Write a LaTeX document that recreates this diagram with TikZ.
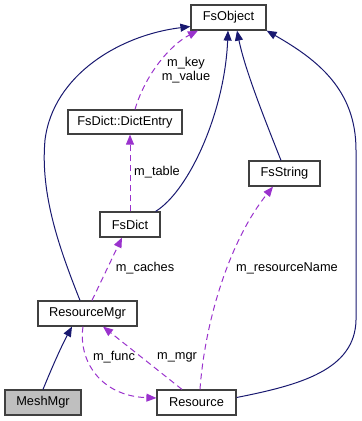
\documentclass[tikz,border=0pt]{standalone}
\usepackage{fontspec}
\setmainfont{Liberation Sans}
\usetikzlibrary{arrows.meta}

\definecolor{inhcol}{RGB}{25,25,112}
\definecolor{usecol}{RGB}{154,50,205}

\begin{document}
\begin{tikzpicture}[x=1pt, y=-1pt, font=\fontsize{12.8}{14}\selectfont,
  >={Triangle[length=10pt,width=8pt]},
  b/.style={draw=black!75, line width=1.2pt, fill=white, inner sep=0pt, minimum height=25pt},
  inh/.style={draw=inhcol, line width=1pt, ->, >={Triangle[length=10pt,width=8pt,fill=inhcol]}},
  use/.style={draw=usecol, line width=1pt, dash pattern=on 6pt off 4pt, ->, >={Triangle[length=10pt,width=8pt,fill=usecol]}},
  lbl/.style={inner sep=0pt, align=center}]
  \useasboundingbox (0,0) rectangle (362,421);
  \node[b, minimum width=75pt]  (obj)    at (228.5,17.5)  {FsObject};
  \node[b, minimum width=114pt, minimum height=24pt] (dentry) at (125,122) {FsDict::DictEntry};
  \node[b, minimum width=60pt]  (fsdict) at (130,224.5)   {FsDict};
  \node[b, minimum width=71pt]  (fsstr)  at (284.5,173.5) {FsString};
  \node[b, minimum width=99pt]  (rmgr)   at (87.5,313.5)  {ResourceMgr};
  \node[b, minimum width=79pt]  (res)    at (196.5,402.5) {Resource};
  \node[b, minimum width=76pt, fill=black!25] (mesh) at (43,402.5) {MeshMgr};
  % base classes
  \draw[inh] (mesh.north) .. controls (53,365) and (62,345) .. ([xshift=-15.5pt]rmgr.south);
  \draw[inh] ([xshift=-7.5pt]rmgr.north) .. controls (60,250) and (40,195) .. (45,140)
    .. controls (53,75) and (120,35) .. ([yshift=-9pt]obj.west);
  \draw[inh] ([xshift=-5pt]fsdict.north east) .. controls (190,190) and (225,110) .. ([xshift=-0.5pt]obj.south);
  \draw[inh] ([xshift=-3.5pt]fsstr.north) .. controls (265,120) and (245,70) .. ([xshift=8.5pt]obj.south);
  \draw[inh] ([yshift=5pt]res.east) .. controls (300,385) and (355,370) .. (356,320)
    -- (356,150) .. controls (356,90) and (318,60) .. (obj.south east);
  % members
  \draw[use] ([xshift=10pt]dentry.north) .. controls (145,75) and (170,45) .. ([xshift=-30.5pt]obj.south);
  \draw[use] (fsdict.north) -- ([xshift=5pt]dentry.south);
  \draw[use] ([xshift=4.5pt]rmgr.north) -- ([xshift=-8pt]fsdict.south);
  \draw[use] ([xshift=3.5pt]res.north) .. controls (205,320) and (230,240) .. ([xshift=-11.5pt]fsstr.south);
  \draw[use] ([xshift=-4.5pt]rmgr.south) .. controls (78,360) and (100,396) .. ([yshift=4.5pt]res.west);
  \draw[use] ([xshift=-14.5pt]res.north) -- ([xshift=15.5pt]rmgr.south);
  \node[lbl] (lkey)   at (186,70)  {m\_key\\m\_value};
  \node[lbl] (ltable) at (157,172) {m\_table};
  \node[lbl] (lcache) at (145,268) {m\_caches};
  \node[lbl] (lname)  at (287,268) {m\_resourceName};
  \node[lbl] (lfunc)  at (114,357) {m\_func};
  \node[lbl] (lmgr)   at (177,357) {m\_mgr};
\end{tikzpicture}
\end{document}
